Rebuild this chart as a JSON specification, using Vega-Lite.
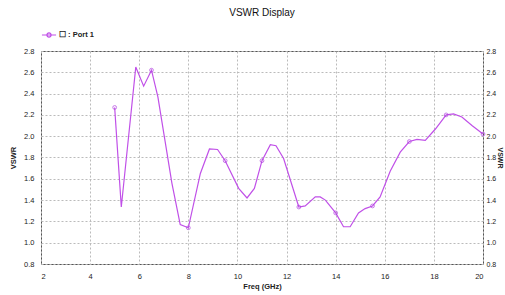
{
  "$schema": "https://vega.github.io/schema/vega-lite/v6.json",
  "width": 442,
  "height": 213,
  "autosize": {"type": "none"},
  "padding": {"left": 41, "top": 51, "right": 22, "bottom": 31},
  "background": "white",
  "title": {"text": "VSWR Display", "fontSize": 10, "font": "Liberation Sans", "fontWeight": "normal", "color": "#111", "anchor": "middle", "offset": 9},
  "config": {
    "view": {"stroke": "#555", "strokeWidth": 1},
    "axis": {"labelFont": "Liberation Sans", "titleFont": "Liberation Sans", "labelFontSize": 7.5, "titleFontSize": 7.5, "labelColor": "#222", "titleColor": "#222", "domain": false, "ticks": false, "gridColor": "#bbbbbb", "gridDash": [2, 2], "gridWidth": 1}
  },
  "data": {"values": [
    {"f": 5.0, "v": 2.27, "m": true, "s": "Port 1"},
    {"f": 5.27, "v": 1.335, "m": false, "s": "Port 1"},
    {"f": 5.86, "v": 2.65, "m": false, "s": "Port 1"},
    {"f": 6.18, "v": 2.47, "m": false, "s": "Port 1"},
    {"f": 6.5, "v": 2.62, "m": true, "s": "Port 1"},
    {"f": 6.76, "v": 2.37, "m": false, "s": "Port 1"},
    {"f": 7.33, "v": 1.56, "m": false, "s": "Port 1"},
    {"f": 7.67, "v": 1.17, "m": false, "s": "Port 1"},
    {"f": 8.0, "v": 1.14, "m": true, "s": "Port 1"},
    {"f": 8.49, "v": 1.65, "m": false, "s": "Port 1"},
    {"f": 8.86, "v": 1.88, "m": false, "s": "Port 1"},
    {"f": 9.19, "v": 1.875, "m": false, "s": "Port 1"},
    {"f": 9.5, "v": 1.77, "m": true, "s": "Port 1"},
    {"f": 10.05, "v": 1.51, "m": false, "s": "Port 1"},
    {"f": 10.39, "v": 1.42, "m": false, "s": "Port 1"},
    {"f": 10.69, "v": 1.51, "m": false, "s": "Port 1"},
    {"f": 11.0, "v": 1.77, "m": true, "s": "Port 1"},
    {"f": 11.34, "v": 1.92, "m": false, "s": "Port 1"},
    {"f": 11.57, "v": 1.91, "m": false, "s": "Port 1"},
    {"f": 11.88, "v": 1.79, "m": false, "s": "Port 1"},
    {"f": 12.5, "v": 1.335, "m": true, "s": "Port 1"},
    {"f": 12.76, "v": 1.345, "m": false, "s": "Port 1"},
    {"f": 13.17, "v": 1.43, "m": false, "s": "Port 1"},
    {"f": 13.37, "v": 1.43, "m": false, "s": "Port 1"},
    {"f": 13.58, "v": 1.40, "m": false, "s": "Port 1"},
    {"f": 14.0, "v": 1.28, "m": true, "s": "Port 1"},
    {"f": 14.32, "v": 1.15, "m": false, "s": "Port 1"},
    {"f": 14.59, "v": 1.15, "m": false, "s": "Port 1"},
    {"f": 14.93, "v": 1.28, "m": false, "s": "Port 1"},
    {"f": 15.2, "v": 1.32, "m": false, "s": "Port 1"},
    {"f": 15.5, "v": 1.345, "m": true, "s": "Port 1"},
    {"f": 15.81, "v": 1.43, "m": false, "s": "Port 1"},
    {"f": 16.22, "v": 1.67, "m": false, "s": "Port 1"},
    {"f": 16.63, "v": 1.85, "m": false, "s": "Port 1"},
    {"f": 17.0, "v": 1.95, "m": true, "s": "Port 1"},
    {"f": 17.31, "v": 1.97, "m": false, "s": "Port 1"},
    {"f": 17.65, "v": 1.96, "m": false, "s": "Port 1"},
    {"f": 18.07, "v": 2.07, "m": false, "s": "Port 1"},
    {"f": 18.5, "v": 2.20, "m": true, "s": "Port 1"},
    {"f": 18.8, "v": 2.21, "m": false, "s": "Port 1"},
    {"f": 19.14, "v": 2.18, "m": false, "s": "Port 1"},
    {"f": 19.55, "v": 2.10, "m": false, "s": "Port 1"},
    {"f": 20.0, "v": 2.02, "m": true, "s": "Port 1"}
  ]},
  "layer": [
    {
      "mark": {"type": "line", "strokeWidth": 1.2, "interpolate": "linear"},
      "encoding": {
        "x": {"field": "f", "type": "quantitative", "scale": {"domain": [2, 20], "nice": false}, "axis": {"values": [2, 4, 6, 8, 10, 12, 14, 16, 18, 20], "title": "Freq (GHz)", "labelPadding": 8, "titlePadding": 3, "titleFontWeight": "bold"}},
        "y": {"field": "v", "type": "quantitative", "scale": {"domain": [0.8, 2.8], "nice": false}, "axis": {"orient": "left", "values": [0.8, 1, 1.2, 1.4, 1.6, 1.8, 2, 2.2, 2.4, 2.6, 2.8], "title": "VSWR", "labelPadding": 7, "titlePadding": 6, "titleFontWeight": "bold"}},
        "color": {"field": "s", "type": "nominal", "scale": {"range": ["#c050e8"]}, "legend": {"orient": "none", "legendX": 0, "legendY": -24, "title": null, "symbolType": "M-1,0H1M-0.3,0A0.3,0.3 0 1,0 0.3,0A0.3,0.3 0 1,0 -0.3,0", "symbolSize": 200, "symbolStrokeWidth": 1.2, "labelExpr": "'☐ : ' + datum.label", "labelFont": "Liberation Sans", "labelFontSize": 7.5, "labelFontWeight": "bold", "labelColor": "#222", "labelOffset": 2}}
      }
    },
    {
      "transform": [{"filter": "datum.m"}],
      "mark": {"type": "point", "shape": "circle", "filled": false, "size": 14, "strokeWidth": 1, "color": "#b040e0"},
      "encoding": {
        "x": {"field": "f", "type": "quantitative"},
        "y": {"field": "v", "type": "quantitative", "axis": {"orient": "right", "values": [0.8, 1, 1.2, 1.4, 1.6, 1.8, 2, 2.2, 2.4, 2.6, 2.8], "title": "VSWR", "grid": false, "labelPadding": 3, "labelFontSize": 7, "titlePadding": 1, "titleFontSize": 7, "titleFontWeight": "bold"}}
      }
    }
  ],
  "resolve": {"axis": {"y": "independent"}}
}
